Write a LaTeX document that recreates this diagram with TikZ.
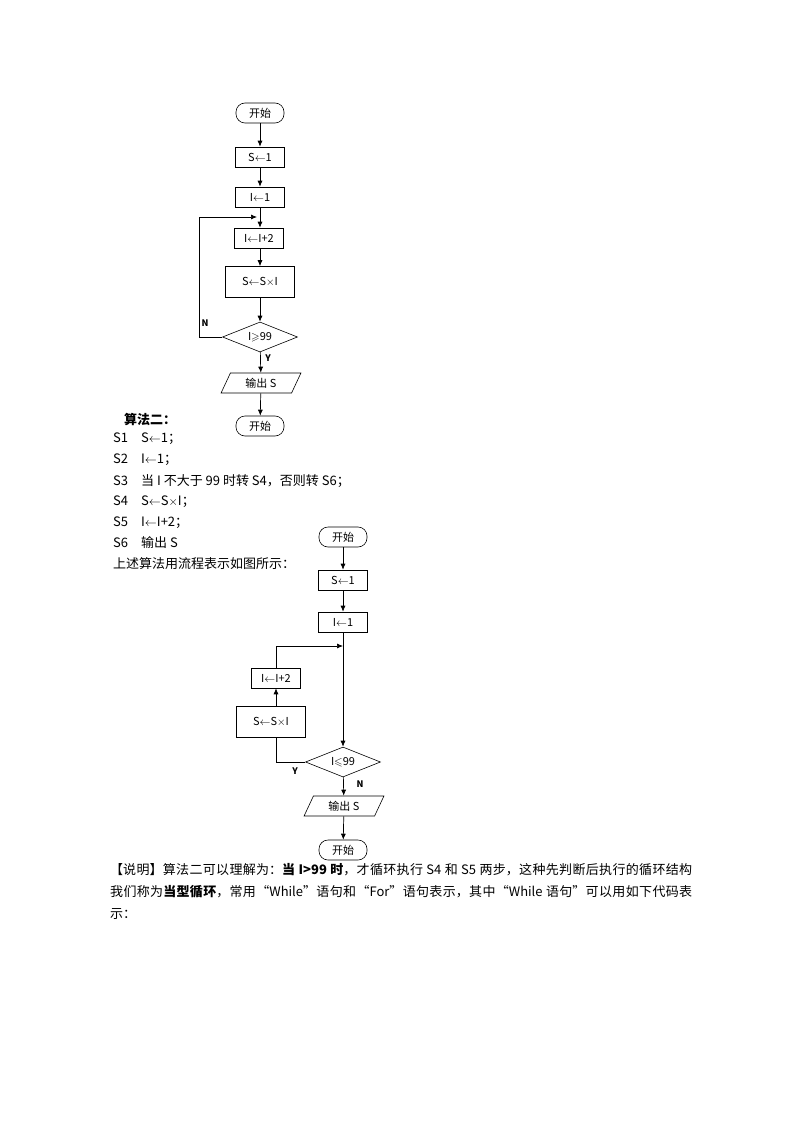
\documentclass[tikz,border=0pt]{standalone}
\usepackage{amssymb}
\usepackage{fontspec}
\setmainfont{Noto Sans CJK SC}
\XeTeXlinebreaklocale "zh"
\XeTeXlinebreakskip=0pt plus 1pt
\usetikzlibrary{arrows.meta, shapes.geometric}

\begin{document}
\begin{tikzpicture}[
  x=1pt, y=-1pt,
  every node/.style = {font=\fontsize{11}{12}\selectfont, inner sep=0pt},
  arrow/.style = {-{Latex[length=6pt,width=5pt]}, line width=0.7pt},
  line/.style = {line width=0.7pt},
  terminal/.style = {draw, rounded corners=9pt, minimum width=48pt, minimum height=20pt, line width=0.6pt},
  process/.style = {draw, minimum width=49pt, minimum height=20pt, line width=0.6pt},
  bigprocess/.style = {draw, minimum width=69pt, minimum height=31pt, line width=0.6pt},
  decision/.style = {draw, diamond, aspect=2.5, minimum width=75pt, minimum height=30pt, line width=0.6pt},
  io/.style = {draw, trapezium, trapezium left angle=65, trapezium right angle=115, minimum width=66pt, minimum height=20pt, line width=0.6pt},
  yn/.style = {font=\bfseries\fontsize{9}{10}\selectfont},
  body/.style = {font=\fontsize{13}{21}\selectfont, anchor=west}
]
\useasboundingbox (0,0) rectangle (794,1123);

% First chart: until-type loop
\node[terminal] (startA) at (260,113) {开始};
\node[process] (sA) at (260,157) {S$\leftarrow$1};
\node[process] (iA) at (260,197) {I$\leftarrow$1};
\node[process] (incA) at (259,238) {I$\leftarrow$I+2};
\node[bigprocess] (mulA) at (260,282) {S$\leftarrow$S$\times$I};
\node[decision] (testA) at (260,337) {I$\geqslant$99};
\node[io] (outA) at (261,383) {输出 S};
\node[terminal] (endA) at (260,426) {开始};
\coordinate (joinA) at (260,217);
\coordinate (backA) at (199,217);

\draw[arrow] (startA) -- (sA);
\draw[arrow] (sA) -- (iA);
\draw[arrow] (iA) -- (iA |- incA.north);
\draw[arrow] (incA.south -| mulA) -- (mulA);
\draw[arrow] (mulA) -- (testA);
\draw[arrow] (testA) -- (outA);
\draw[arrow] (outA) -- (endA);
\draw[line] (testA.west) -| (backA);
\draw[arrow] (backA) -- ([xshift=-3pt]joinA);
\node[yn] (labN) at (205,323) {N};
\node[yn] (labY) at (268,358) {Y};

% Algorithm text
\node[anchor=west, font=\bfseries\fontsize{13}{14}\selectfont] (title) at (124,419) {算法二：};
\node[body] (l1) at (113,439) {S1\quad S$\leftarrow$1；};
\node[body] (l2) at (113,460) {S2\quad I$\leftarrow$1；};
\node[body] (l3) at (113,481) {S3\quad 当 I 不大于 99 时转 S4，否则转 S6；};
\node[body] (l4) at (113,502) {S4\quad S$\leftarrow$S$\times$I；};
\node[body] (l5) at (113,523) {S5\quad I$\leftarrow$I+2；};
\node[body] (l6) at (113,543) {S6\quad 输出 S};
\node[body] (l7) at (113,564) {上述算法用流程表示如图所示：};

% Second chart: while-type loop
\node[terminal] (startB) at (343,537) {开始};
\node[process] (sB) at (343,580) {S$\leftarrow$1};
\node[process] (iB) at (343,622) {I$\leftarrow$1};
\node[process] (incB) at (276,678) {I$\leftarrow$I+2};
\node[bigprocess] (mulB) at (271,722) {S$\leftarrow$S$\times$I};
\node[decision] (testB) at (343,762) {I$\leqslant$99};
\node[io] (outB) at (344,806) {输出 S};
\node[terminal] (endB) at (343,850) {开始};
\coordinate (joinB) at (343,646);

\draw[arrow] (startB) -- (sB);
\draw[arrow] (sB) -- (iB);
\draw[arrow] (iB) -- (testB);
\draw[line] (testB.west) -| (mulB.south -| incB);
\draw[arrow] (mulB.north -| incB) -- (incB);
\draw[arrow] (incB) |- (joinB);
\draw[arrow] (testB) -- (outB);
\draw[arrow] (outB) -- (endB);
\node[yn] (labY2) at (295,771) {Y};
\node[yn] (labN2) at (360,784) {N};

% Explanation
\node[anchor=north west, align=justify, text width=582pt, font=\fontsize{13}{22}\selectfont] (note) at (110,863)
 {【说明】算法二可以理解为：\textbf{当 I>99 时}，才循环执行 S4 和 S5 两步，这种先判断后执行的循环结构我们称为\textbf{当型循环}，常用“While”语句和“For”语句表示，其中“While 语句”可以用如下代码表示：};
\end{tikzpicture}
\end{document}
